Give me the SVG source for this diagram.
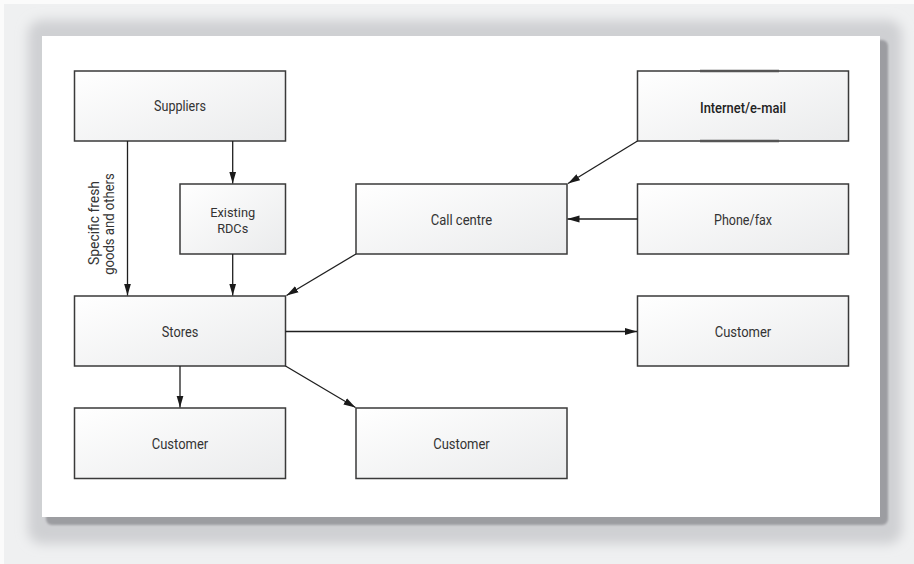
<svg xmlns="http://www.w3.org/2000/svg" width="914" height="564" viewBox="0 0 914 564">
  <defs>
    <linearGradient id="boxfill" x1="0" y1="0" x2="1" y2="1">
      <stop offset="0" stop-color="#ffffff"/>
      <stop offset="1" stop-color="#eaebec"/>
    </linearGradient>
    <filter id="glow" x="-5%" y="-8%" width="110%" height="116%">
      <feGaussianBlur stdDeviation="6"/>
    </filter>
    <filter id="soft" x="-5%" y="-5%" width="110%" height="110%">
      <feGaussianBlur stdDeviation="1"/>
    </filter>
    <marker id="ah" viewBox="0 0 12 8" refX="12" refY="4" markerWidth="12" markerHeight="8" markerUnits="userSpaceOnUse" orient="auto">
      <path d="M0,0.5 L12,4 L0,7.5 z" fill="#1a1a1a"/>
    </marker>
    <style>
      .box { fill: url(#boxfill); stroke: #3a3a3a; stroke-width: 1.5; }
      .lbl { font-family: Roboto, "Liberation Sans", sans-serif; font-size: 14.5px; fill: #333333; text-anchor: middle; }
      .sm { font-size: 13.5px; }
      .conn { fill: none; stroke: #1f1f1f; stroke-width: 1.3; marker-end: url(#ah); }
    </style>
  </defs>

  <!-- background -->
  <rect x="0" y="0" width="914" height="564" fill="#fbfbfb"/>
  <rect x="4" y="4" width="910" height="560" fill="#eff0f1"/>
  <rect x="28" y="20" width="874" height="524" rx="14" fill="#cfd0d3" filter="url(#glow)"/>
  <rect x="46" y="40" width="842" height="485" rx="6" fill="#9c9da1" filter="url(#soft)"/>
  <rect x="42" y="36" width="838" height="481" fill="#ffffff"/>

  <!-- nodes -->
  <g id="suppliers">
    <rect class="box" x="74.5" y="71" width="211" height="70"/>
    <text class="lbl" x="180" y="111" textLength="52" lengthAdjust="spacingAndGlyphs">Suppliers</text>
  </g>
  <g id="internet">
    <rect class="box" x="637.5" y="71" width="211" height="70"/>
    <line x1="700" y1="71" x2="779" y2="71" stroke="#555555" stroke-width="2.5"/>
    <line x1="700" y1="141" x2="779" y2="141" stroke="#555555" stroke-width="2.5"/>
    <text class="lbl" x="743" y="113" textLength="86" lengthAdjust="spacingAndGlyphs" style="font-size:15.5px;font-weight:500;fill:#222222">Internet/e-mail</text>
  </g>
  <g id="rdcs">
    <rect class="box" x="180" y="184" width="105.5" height="70"/>
    <text class="lbl sm" x="232.7" y="217" textLength="45" lengthAdjust="spacingAndGlyphs">Existing</text>
    <text class="lbl sm" x="232.7" y="232.5" textLength="31" lengthAdjust="spacingAndGlyphs">RDCs</text>
  </g>
  <g id="callcentre">
    <rect class="box" x="356" y="184" width="211" height="70"/>
    <text class="lbl" x="461.5" y="224.5" textLength="61.5" lengthAdjust="spacingAndGlyphs">Call centre</text>
  </g>
  <g id="phonefax">
    <rect class="box" x="637.5" y="184" width="211" height="70"/>
    <text class="lbl" x="743" y="224.5" textLength="58" lengthAdjust="spacingAndGlyphs">Phone/fax</text>
  </g>
  <g id="stores">
    <rect class="box" x="74.5" y="296" width="211" height="70"/>
    <text class="lbl" x="180" y="336.5" textLength="36.5" lengthAdjust="spacingAndGlyphs">Stores</text>
  </g>
  <g id="customer-right">
    <rect class="box" x="637.5" y="296" width="211" height="70"/>
    <text class="lbl" x="743" y="336.5" textLength="56.5" lengthAdjust="spacingAndGlyphs">Customer</text>
  </g>
  <g id="customer-left">
    <rect class="box" x="74.5" y="408" width="211" height="70.5"/>
    <text class="lbl" x="180" y="449" textLength="56.5" lengthAdjust="spacingAndGlyphs">Customer</text>
  </g>
  <g id="customer-mid">
    <rect class="box" x="356" y="408" width="211" height="70.5"/>
    <text class="lbl" x="461.5" y="449" textLength="56.5" lengthAdjust="spacingAndGlyphs">Customer</text>
  </g>

  <!-- connectors -->
  <g id="connectors">
    <path class="conn" d="M127.5,141 V295.5"/>
    <path class="conn" d="M232.7,141 V183.5"/>
    <path class="conn" d="M232.7,254 V295.5"/>
    <path class="conn" d="M637.5,141 L568,183.5"/>
    <path class="conn" d="M637.5,219 H567.5"/>
    <path class="conn" d="M356,254 L286.5,295.5"/>
    <path class="conn" d="M285.5,331.5 H637"/>
    <path class="conn" d="M180,366 V407.5"/>
    <path class="conn" d="M285.5,366 L355.5,407.5"/>
    <text class="lbl" transform="translate(98.5,223) rotate(-90)" textLength="84" lengthAdjust="spacingAndGlyphs">Specific fresh</text>
    <text class="lbl" transform="translate(113.5,224) rotate(-90)" textLength="101.5" lengthAdjust="spacingAndGlyphs">goods and others</text>
  </g>
</svg>
